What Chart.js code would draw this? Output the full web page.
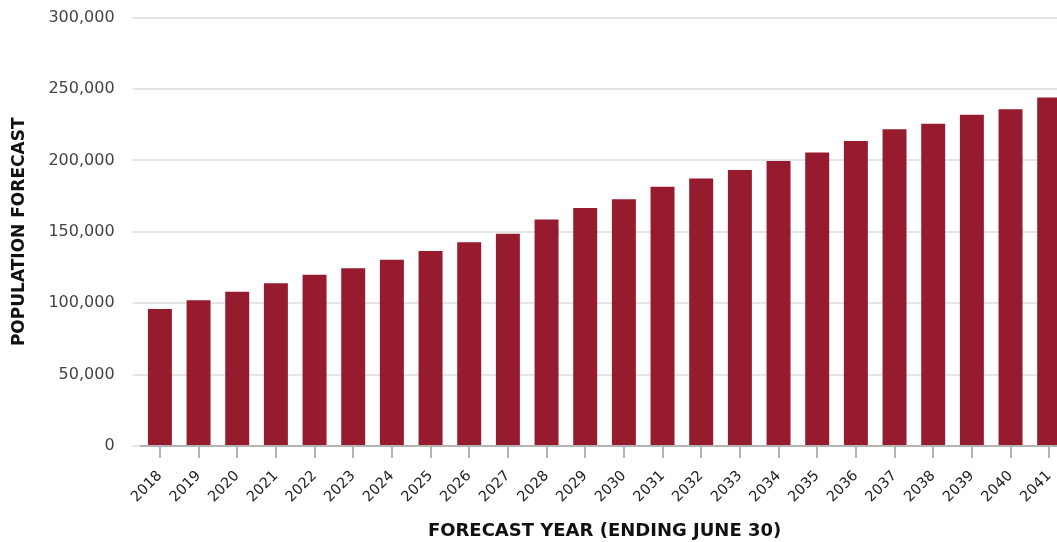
<!DOCTYPE html>
<html lang="en">
<head>
    <meta charset="UTF-8">
    <title>Population Forecast</title>
    <script src="https://cdn.jsdelivr.net/npm/chart.js"></script>
    <style>
        html, body { margin: 0; padding: 0; background: #fff; overflow: hidden; }
        /* canvas is a bit larger than the window: the last bar is cut at the right edge like the original */
        .wrap { position: absolute; top: -10px; left: 0; width: 1071px; height: 557px; }
    </style>
</head>
<body>
    <div class="wrap">
        <canvas id="popChart"></canvas>
    </div>

    <script>
        // Data
        const years = ['2018', '2019', '2020', '2021', '2022', '2023', '2024', '2025', '2026', '2027', '2028', '2029',
                       '2030', '2031', '2032', '2033', '2034', '2035', '2036', '2037', '2038', '2039', '2040', '2041'];
        const population = [96000, 102000, 108000, 114000, 120000, 124500, 130500, 136500, 142600, 148700, 158600, 166700,
                            172800, 181500, 187400, 193200, 199500, 205600, 213600, 221800, 225700, 231900, 235900, 244000];
        const yTicks = [0, 50000, 100000, 150000, 200000, 250000, 300000];

        const barColor = '#961b2e';
        const fontFamily = "'DejaVu Sans', sans-serif";

        const ctx = document.getElementById('popChart').getContext('2d');
        new Chart(ctx, {
            type: 'bar',
            data: {
                labels: years,
                datasets: [{
                    label: 'Population forecast',
                    data: population,
                    backgroundColor: barColor,
                    borderWidth: 0,
                    categoryPercentage: 1.0,
                    barPercentage: 0.62
                }]
            },
            options: {
                responsive: true,
                maintainAspectRatio: false,
                animation: false,
                layout: { padding: { top: 0, right: 0, bottom: 5, left: 9 } },
                plugins: {
                    legend: { display: false },
                    tooltip: { enabled: false }
                },
                scales: {
                    x: {
                        grid: {
                            display: true,
                            offset: false,
                            drawOnChartArea: false,
                            drawTicks: true,
                            tickLength: 12,
                            color: '#b4b4b4',
                            lineWidth: 2
                        },
                        border: { display: true, color: '#b4b4b4', width: 2 },
                        ticks: {
                            color: '#222',
                            minRotation: 45,
                            maxRotation: 45,
                            font: { family: fontFamily, size: 14.5 },
                            padding: 9.5
                        },
                        title: {
                            display: true,
                            text: 'FORECAST YEAR (ENDING JUNE 30)',
                            color: '#111',
                            font: { family: fontFamily, size: 18, weight: 'bold' },
                            padding: { top: 5, bottom: 0 }
                        }
                    },
                    y: {
                        min: 0,
                        max: 300000,
                        afterBuildTicks: (axis) => { axis.ticks = yTicks.map(v => ({ value: v })); },
                        grid: {
                            color: '#e3e6e8',
                            lineWidth: 2,
                            drawTicks: true,
                            tickLength: 8
                        },
                        border: { display: false },
                        ticks: {
                            color: '#444',
                            font: { family: fontFamily, size: 16 },
                            padding: 18,
                            callback: (v) => v.toLocaleString('en-US')
                        },
                        title: {
                            display: true,
                            text: 'POPULATION FORECAST',
                            color: '#111',
                            font: { family: fontFamily, size: 17, weight: 'bold' },
                            padding: { top: 0, bottom: 1 }
                        }
                    }
                }
            }
        });
    </script>
</body>
</html>
